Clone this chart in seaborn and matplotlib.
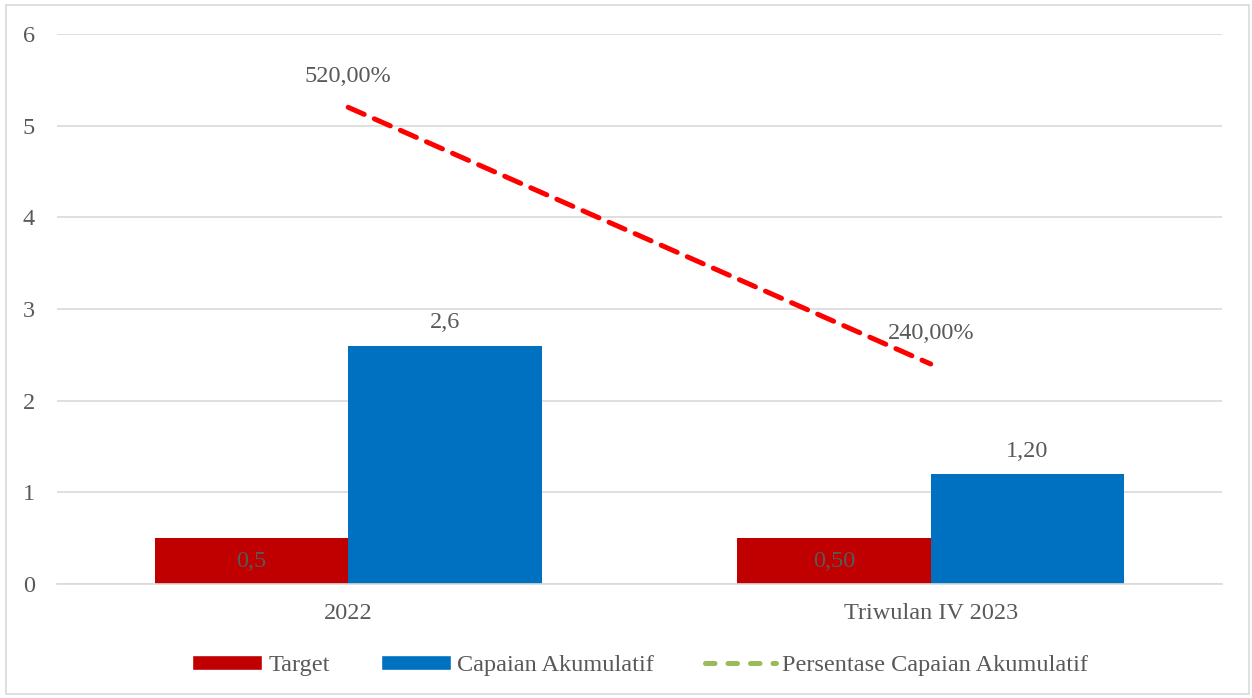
import matplotlib
matplotlib.use("Agg")
import matplotlib.pyplot as plt
from matplotlib.patches import Patch, Rectangle
from matplotlib.lines import Line2D
import pandas as pd
import seaborn as sns

# Data
categories = ["2022", "Triwulan IV 2023"]
target = [0.5, 0.5]
capaian = [2.6, 1.2]
persentase = [520.0, 240.0]
label_decimals = [1, 2]  # decimals shown on bar labels per category
y_ticks = [0, 1, 2, 3, 4, 5, 6]

series_names = ["Target", "Capaian Akumulatif"]
line_name = "Persentase Capaian Akumulatif"

TEXT = "#595959"
RED = "#C00000"
BLUE = "#0070C0"
LINE_RED = "#FF0000"
GREEN = "#9BBB59"
GRID = "#D9D9D9"
FS = 17.5

sns.set_theme(style="white")
plt.rcParams["font.family"] = ["Liberation Serif", "DejaVu Serif"]
plt.rcParams["font.size"] = FS

fig = plt.figure(figsize=(12.52, 6.98), dpi=100)
ax = fig.add_axes([0.0455, 0.1633, 0.9305, 0.788])

bars = pd.DataFrame({
    "Kategori": categories * 2,
    "Seri": [series_names[0]] * len(categories) + [series_names[1]] * len(categories),
    "Nilai": target + capaian,
})
sns.barplot(data=bars, x="Kategori", y="Nilai", hue="Seri",
            palette=[RED, BLUE], width=0.664, gap=0, saturation=1,
            errorbar=None, ax=ax, legend=False, linewidth=0)

line_df = pd.DataFrame({"Kategori": categories,
                        "Nilai": [p / 100 for p in persentase]})
sns.pointplot(data=line_df, x="Kategori", y="Nilai", color=LINE_RED,
              markers="", linestyles="--", errorbar=None, ax=ax)
for ln in ax.lines:
    ln.set_linewidth(3.6)
    ln.set_dashes([3.5, 2.2])
    ln.set_dash_capstyle("round")
    ln.set_zorder(4)

# Bar value labels
def fmt(v, d):
    return f"{v:.{d}f}".replace(".", ",")

tgt_cont, cap_cont = ax.containers[0], ax.containers[1]
ax.bar_label(tgt_cont, labels=[fmt(v, d) for v, d in zip(target, label_decimals)],
             label_type="center", color=TEXT, fontsize=FS)
ax.bar_label(cap_cont, labels=[fmt(v, d) for v, d in zip(capaian, label_decimals)],
             padding=9, color=TEXT, fontsize=FS)

# Line value labels
for i, p in enumerate(persentase):
    ax.annotate(f"{p:.2f}%".replace(".", ","), (i, p / 100),
                xytext=(0, 22), textcoords="offset points",
                ha="center", va="center", color=TEXT, fontsize=FS)

ax.set_xlim(-0.5, len(categories) - 0.5)
ax.set_ylim(0, 6)
ax.set_yticks(y_ticks)
ax.yaxis.grid(True, color=GRID, linewidth=1.2)
ax.set_axisbelow(True)
for side in ["left", "right", "top"]:
    ax.spines[side].set_visible(False)
ax.spines["bottom"].set_color(GRID)
ax.spines["bottom"].set_linewidth(1.2)
ax.tick_params(axis="both", length=0, colors=TEXT, labelsize=FS)
ax.tick_params(axis="y", pad=16)
ax.tick_params(axis="x", pad=14)
ax.set_xlabel("")
ax.set_ylabel("")

handles = [
    Patch(facecolor=RED, label=series_names[0]),
    Patch(facecolor=BLUE, label=series_names[1]),
    Line2D([0], [0], color=GREEN, lw=3.6, dashes=[1.9, 2.6],
           dash_capstyle="round", label=line_name),
]
fig.legend(handles=handles, loc="center", bbox_to_anchor=(0.511, 0.046),
           ncol=3, frameon=False, fontsize=FS, handlelength=2.9,
           handleheight=0.55, handletextpad=0.25, columnspacing=2.1,
           labelcolor=TEXT)

# Figure border
fig.patches.append(Rectangle((0.005, 0.006), 0.993, 0.987, transform=fig.transFigure,
                             fill=False, edgecolor=GRID, linewidth=1.2))

fig.savefig("out.png", dpi=100)
